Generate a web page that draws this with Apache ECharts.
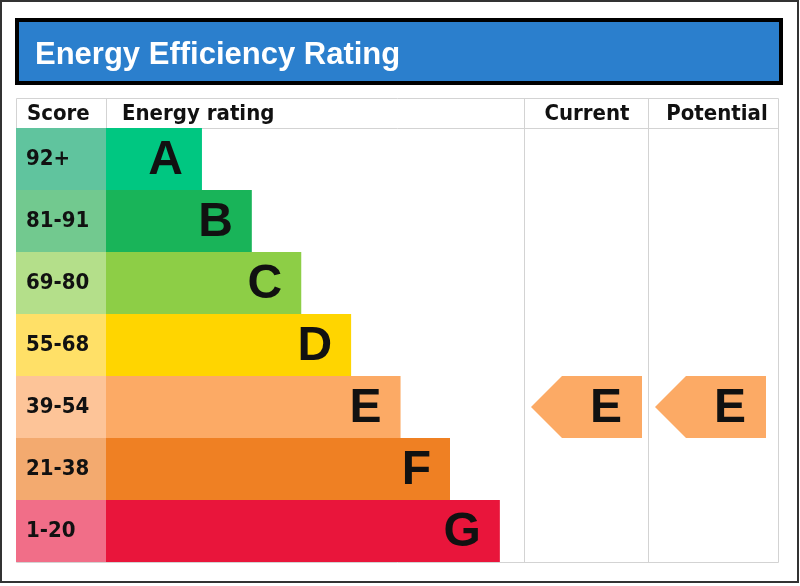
<!DOCTYPE html>
<html>
<head>
<meta charset="utf-8">
<style>
  html, body { margin: 0; padding: 0; background: #ffffff; }
  #chart { width: 800px; height: 586px; }
</style>
<script src="https://cdn.jsdelivr.net/npm/echarts@6/dist/echarts.min.js"></script>
</head>
<body>
<div id="chart"></div>
<script>
// ---- data ----
const titleText = 'Energy Efficiency Rating';
const columns = ['Score', 'Energy rating', 'Current', 'Potential'];
const ratings = ['A', 'B', 'C', 'D', 'E', 'F', 'G'];
const scores = ['92+', '81-91', '69-80', '55-68', '39-54', '21-38', '1-20'];
// bar length as % of the "Energy rating" column width
const barLengths = [22.9, 34.8, 46.6, 58.5, 70.3, 82.1, 94.0];
const barColors = ['#00C781', '#19B459', '#8DCE46', '#FFD500', '#FCAA65', '#EF8023', '#E9153B'];
const scoreColors = ['#60C49E', '#72C98F', '#B4DF8A', '#FFE067', '#FDC498', '#F3AA6F', '#F16E88'];
const currentRating = 'E';
const potentialRating = 'E';

// ---- styles ----
const headFont = '"DejaVu Sans Condensed", "DejaVu Sans", sans-serif';
const letterFont = '"Liberation Sans", Arial, sans-serif';
const lineColor = '#d3d3d3';

const chart = echarts.init(document.getElementById('chart'), null, { renderer: 'canvas' });

function arrowRender(params, api) {
  const cs = params.coordSys;
  const idx = api.value(1);
  const c = api.coord([0, idx]);
  const h = api.size([0, 1])[1];
  const cy = c[1];
  const top = cy - h / 2, bottom = cy + h / 2;
  const tipX = cs.x + 6;
  const rightX = tipX + 111;
  const col = barColors[idx];
  return {
    type: 'group',
    children: [
      {
        type: 'polygon',
        shape: { points: [[tipX, cy], [tipX + h / 2, top], [rightX, top], [rightX, bottom], [tipX + h / 2, bottom]] },
        style: { fill: col }
      },
      {
        type: 'text',
        style: {
          text: ratings[idx], x: rightX - 20, y: cy + 2,
          align: 'right', verticalAlign: 'middle',
          font: 'bold 48px ' + letterFont, fill: '#111111'
        }
      }
    ]
  };
}

const gridTop = 128, gridH = 434;
const option = {
  backgroundColor: '#ffffff',
  animation: false,
  title: {
    text: titleText,
    left: 35, top: 40, padding: 0,
    textStyle: { color: '#ffffff', fontSize: 31, fontWeight: 'bold', fontFamily: letterFont, lineHeight: 31 },
    z: 10
  },
  grid: [
    { left: 16, top: gridTop, width: 90, height: gridH },
    { left: 106, top: gridTop, width: 419, height: gridH },
    { left: 525, top: gridTop, width: 124, height: gridH },
    { left: 649, top: gridTop, width: 130, height: gridH }
  ],
  xAxis: [
    { gridIndex: 0, type: 'value', min: 0, max: 1, show: false },
    { gridIndex: 1, type: 'value', min: 0, max: 100, show: false },
    { gridIndex: 2, type: 'value', min: 0, max: 1, show: false },
    { gridIndex: 3, type: 'value', min: 0, max: 1, show: false }
  ],
  yAxis: [
    { gridIndex: 0, type: 'category', inverse: true, data: scores, show: false },
    { gridIndex: 1, type: 'category', inverse: true, data: ratings, show: false },
    { gridIndex: 2, type: 'category', inverse: true, data: ratings, show: false },
    { gridIndex: 3, type: 'category', inverse: true, data: ratings, show: false }
  ],
  series: [
    {
      type: 'bar', xAxisIndex: 0, yAxisIndex: 0, silent: true,
      barCategoryGap: '0%',
      data: scores.map((s, i) => ({ value: 1, itemStyle: { color: scoreColors[i] } })),
      label: {
        show: true, position: 'insideLeft', distance: 10, formatter: '{b}',
        fontSize: 22, fontWeight: 'bold', fontFamily: headFont, color: '#111111'
      }
    },
    {
      type: 'bar', xAxisIndex: 1, yAxisIndex: 1, silent: true,
      barCategoryGap: '0%',
      data: barLengths.map((v, i) => ({ value: v, itemStyle: { color: barColors[i] } })),
      label: {
        show: true, position: 'insideRight', distance: 19, formatter: '{b}',
        fontSize: 48, fontWeight: 'bold', fontFamily: letterFont, color: '#111111',
        offset: [0, 2]
      }
    },
    {
      type: 'custom', xAxisIndex: 2, yAxisIndex: 2, silent: true,
      encode: { x: 0, y: 1 },
      data: [[0, ratings.indexOf(currentRating)]],
      renderItem: arrowRender
    },
    {
      type: 'custom', xAxisIndex: 3, yAxisIndex: 3, silent: true,
      encode: { x: 0, y: 1 },
      data: [[0, ratings.indexOf(potentialRating)]],
      renderItem: arrowRender
    }
  ],
  graphic: [
    // outer frame
    { type: 'rect', z: 0, shape: { x: 1, y: 1, width: 797, height: 581 }, style: { fill: 'none', stroke: '#333333', lineWidth: 2 } },
    // title box
    { type: 'rect', z: 1, shape: { x: 17, y: 20, width: 764, height: 63 }, style: { fill: '#2B7FCD', stroke: '#000000', lineWidth: 4 } },
    // table
    { type: 'rect', z: 0, shape: { x: 16.5, y: 98.5, width: 762, height: 464 }, style: { fill: 'none', stroke: lineColor, lineWidth: 1 } },
    { type: 'line', z: 0, shape: { x1: 16, y1: 128.5, x2: 779, y2: 128.5 }, style: { stroke: lineColor, lineWidth: 1 } },
    { type: 'line', z: 0, shape: { x1: 106.5, y1: 98, x2: 106.5, y2: 128 }, style: { stroke: lineColor, lineWidth: 1 } },
    { type: 'line', z: 0, shape: { x1: 524.5, y1: 98, x2: 524.5, y2: 563 }, style: { stroke: lineColor, lineWidth: 1 } },
    { type: 'line', z: 0, shape: { x1: 648.5, y1: 98, x2: 648.5, y2: 563 }, style: { stroke: lineColor, lineWidth: 1 } },
    // header texts
    { type: 'text', z: 10, style: { text: columns[0], x: 27, y: 114, align: 'left', verticalAlign: 'middle', font: 'bold 22px ' + headFont, fill: '#111111' } },
    { type: 'text', z: 10, style: { text: columns[1], x: 122, y: 114, align: 'left', verticalAlign: 'middle', font: 'bold 22px ' + headFont, fill: '#111111' } },
    { type: 'text', z: 10, style: { text: columns[2], x: 587, y: 114, align: 'center', verticalAlign: 'middle', font: 'bold 22px ' + headFont, fill: '#111111' } },
    { type: 'text', z: 10, style: { text: columns[3], x: 717, y: 114, align: 'center', verticalAlign: 'middle', font: 'bold 22px ' + headFont, fill: '#111111' } }
  ]
};
chart.setOption(option);
</script>
</body>
</html>
